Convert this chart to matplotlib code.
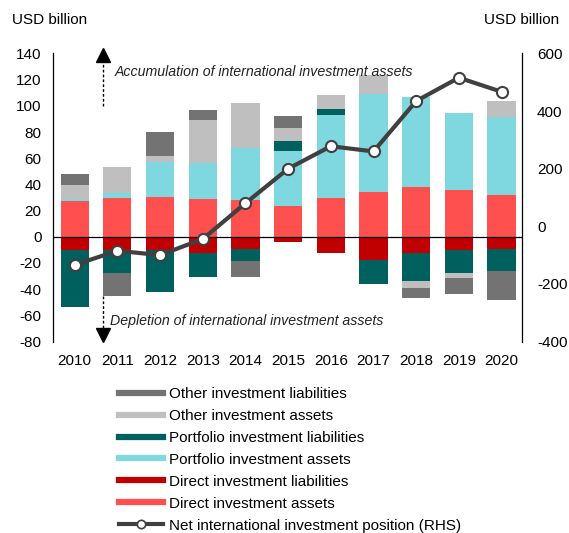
import numpy as np
import matplotlib
matplotlib.use('Agg')
import matplotlib.pyplot as plt
from matplotlib.lines import Line2D

plt.rcParams['font.family'] = ['Liberation Sans', 'DejaVu Sans']
plt.rcParams['axes.unicode_minus'] = False

# dados (USD bilhões)
anos = ['2010', '2011', '2012', '2013', '2014', '2015', '2016', '2017', '2018', '2019', '2020']
direct_assets = [27.5, 29.5, 30.3, 28.8, 27.8, 23.4, 29.5, 33.9, 37.9, 35.4, 32.1]
direct_liab = [-9.9, -10.2, -10.2, -12.5, -9.2, -3.8, -12.7, -17.6, -12.5, -10.2, -9.2]
portfolio_assets = [1.3, 4.3, 26.5, 27.2, 40.0, 41.8, 63.2, 75.1, 69.0, 59.1, 59.1]
portfolio_liab = [-43.5, -17.1, -32.3, -18.6, -9.2, 7.6, 4.6, -18.8, -21.6, -17.1, -17.1]
other_assets = [10.4, 19.6, 5.1, 33.4, 34.4, 10.4, 11.0, 14.5, -5.1, -4.1, 12.7]
other_liab = [8.7, -18.3, 18.1, 7.6, -12.0, 9.4, 0.0, 0.0, -7.4, -12.0, -22.2]
net_iip = [-134, -85, -100, -44, 80, 200, 278, 260, 435, 516, 467]

series = [
    ('Direct investment assets', direct_assets, '#ff5050'),
    ('Direct investment liabilities', direct_liab, '#c00000'),
    ('Portfolio investment assets', portfolio_assets, '#7fd8e0'),
    ('Portfolio investment liabilities', portfolio_liab, '#00605e'),
    ('Other investment assets', other_assets, '#bfbfbf'),
    ('Other investment liabilities', other_liab, '#737373'),
]

W, H = 569, 533
fig = plt.figure(figsize=(W / 100, H / 100), dpi=100)
ax = fig.add_axes([52.5 / W, 1 - 341.5 / H, 470 / W, 288 / H])

x = np.arange(len(anos))
pos = np.zeros(len(anos))
neg = np.zeros(len(anos))
for nome, vals, cor in series:
    v = np.array(vals)
    base = np.where(v >= 0, pos, neg)
    ax.bar(x, v, bottom=base, width=0.66, color=cor, zorder=2)
    pos = pos + np.where(v >= 0, v, 0)
    neg = neg + np.where(v < 0, v, 0)

ax.axhline(0, color='black', lw=0.9, zorder=3)
ax.set_xlim(-0.52, 10.49)
ax.set_ylim(-80, 140)
ax.set_yticks(range(-80, 141, 20))
ax.set_xticks(x)
ax.set_xticklabels(anos)
ax.tick_params(axis='y', length=0, pad=8, labelsize=11)
ax.tick_params(axis='x', length=0, pad=9, labelsize=11)
for s in ['top', 'bottom', 'right']:
    ax.spines[s].set_visible(False)
ax.spines['left'].set_linewidth(0.9)

# setas de anotação
ax.plot([0.66, 0.66], [100, 134], ls=(0, (2, 1.5)), color='black', lw=1, clip_on=False, zorder=4)
ax.plot([0.66], [139], marker='^', ms=10, color='black', clip_on=False, zorder=4)
ax.plot([0.66, 0.66], [-45.4, -70], ls=(0, (2, 1.5)), color='black', lw=1, clip_on=False, zorder=4)
ax.plot([0.66], [-75], marker='v', ms=10, color='black', clip_on=False, zorder=4)
ax.text(0.93, 126.0, 'Accumulation of international investment assets', style='italic',
        fontsize=10.2, va='center', ha='left', color='#222222')
ax.text(0.83, -64.2, 'Depletion of international investment assets', style='italic',
        fontsize=10.2, va='center', ha='left', color='#222222')

ax2 = ax.twinx()
ax2.set_ylim(-400, 600)
ax2.set_yticks(range(-400, 601, 200))
ax2.tick_params(axis='y', length=0, pad=10.5, labelsize=11)
for s in ['top', 'bottom', 'left']:
    ax2.spines[s].set_visible(False)
ax2.spines['right'].set_linewidth(0.9)
ax2.plot(x, net_iip, color='#404040', lw=3, marker='o', ms=8, mfc='white',
         mec='#404040', mew=1.5, zorder=5)

fig.text(12 / W, 1 - 20 / H, 'USD billion', fontsize=11, va='center', ha='left')
fig.text(559 / W, 1 - 20 / H, 'USD billion', fontsize=11, va='center', ha='right')

# legenda
handles = []
labels = []
for nome, vals, cor in series[::-1]:
    handles.append(Line2D([], [], color=cor, lw=4.5))
    labels.append(nome)
handles.append(Line2D([], [], color='#404040', lw=3, marker='o', ms=6, mfc='white', mec='#404040', mew=1.2))
labels.append('Net international investment position (RHS)')
fig.legend(handles, labels, loc='upper left', bbox_to_anchor=(119 / W, 1 - 387 / H),
           frameon=False, fontsize=11, handlelength=2.9, handletextpad=0.4,
           labelspacing=0.52, borderpad=0, borderaxespad=0)

fig.savefig('out.png', dpi=100)
